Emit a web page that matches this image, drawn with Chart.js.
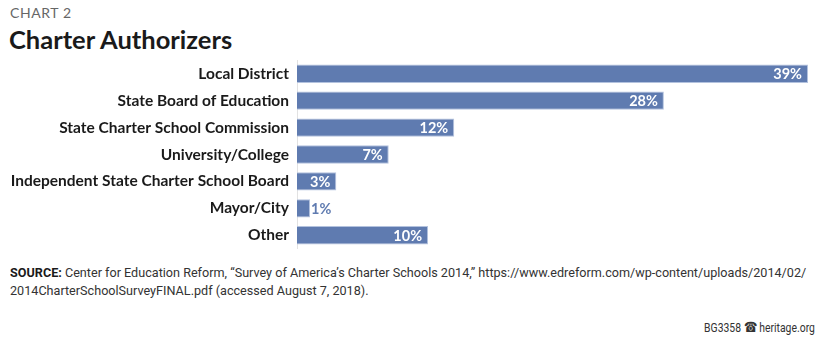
<!DOCTYPE html>
<html>
<head>
<meta charset="utf-8">
<script src="https://cdn.jsdelivr.net/npm/chart.js@4"></script>
<style>
  html, body { margin: 0; padding: 0; background: #fff; }
  body { width: 825px; height: 339px; position: relative; overflow: hidden; font-family: Lato, sans-serif; }
  .kicker { position: absolute; left: 10px; top: 4px; font-size: 14px; color: #666; letter-spacing: 0.6px; }
  .title { position: absolute; left: 9px; top: 24px; font-size: 25.5px; font-weight: 700; color: #1a1a1a; }
  .chart-box { position: absolute; left: 0; top: 51px; width: 825px; height: 207px; }
  .source { position: absolute; left: 10px; top: 263px; width: 960px; font-family: Roboto, sans-serif; font-size: 13.5px; line-height: 18px; color: #333;
            transform: scaleX(0.935); transform-origin: left top; white-space: nowrap; }
  .source b { color: #1a1a1a; font-weight: 700; }
  .credit { position: absolute; right: 10px; top: 319px; font-family: Roboto, sans-serif; font-size: 13.5px; color: #333;
            transform: scaleX(0.77); transform-origin: right top; white-space: nowrap; }
</style>
</head>
<body>
<div class="kicker">CHART 2</div>
<div class="title">Charter Authorizers</div>
<div class="chart-box"><canvas id="barChart"></canvas></div>
<div class="source"><b>SOURCE:</b> Center for Education Reform, “Survey of America’s Charter Schools 2014,” https://www.edreform.com/wp-content/uploads/2014/02/<br>2014CharterSchoolSurveyFINAL.pdf (accessed August 7, 2018).</div>
<div class="credit">BG3358 ☎ heritage.org</div>
<script>
/* ── Data ─────────────────────────────────────────────────── */
const categories = [
  'Local District',
  'State Board of Education',
  'State Charter School Commission',
  'University/College',
  'Independent State Charter School Board',
  'Mayor/City',
  'Other',
];
const shares = [39, 28, 12, 7, 3, 1, 10];

const BAR_FILL   = '#5f7bb0';
const BAR_EDGE   = '#b3c2de';
const LABEL_FONT = 'bold 14.5px Lato, sans-serif';

/* Value labels: inside the bar end in white, outside in bar colour if it does not fit */
const valueLabels = {
  id: 'valueLabels',
  afterDatasetsDraw(chart) {
    const { ctx } = chart;
    const meta = chart.getDatasetMeta(0);
    ctx.save();
    ctx.font = LABEL_FONT;
    ctx.textBaseline = 'middle';
    meta.data.forEach((bar, i) => {
      const text = shares[i] + '%';
      const w = ctx.measureText(text).width;
      const barW = bar.x - bar.base;
      if (barW > w + 8) {
        ctx.fillStyle = '#fff';
        ctx.textAlign = 'right';
        ctx.fillText(text, bar.x - 6, bar.y + 1);
      } else {
        ctx.fillStyle = BAR_FILL;
        ctx.textAlign = 'left';
        ctx.fillText(text, bar.x + 1, bar.y + 1);
      }
    });
    ctx.restore();
  },
};

new Chart(document.getElementById('barChart'), {
  type: 'bar',
  data: {
    labels: categories,
    datasets: [{
      data: shares,
      backgroundColor: BAR_FILL,
      borderColor: BAR_EDGE,
      borderWidth: 1,
      borderSkipped: 'left',
      barPercentage: 0.68,
      categoryPercentage: 1,
    }],
  },
  options: {
    indexAxis: 'y',
    responsive: true,
    maintainAspectRatio: false,
    animation: false,
    layout: { padding: { left: 0, right: 17, top: 0, bottom: 0 } },
    plugins: {
      legend: { display: false },
      tooltip: { enabled: false },
    },
    scales: {
      x: {
        display: false,
        min: 0,
        max: 39,
      },
      y: {
        grid: { display: false },
        border: { display: true, color: '#e2e2e2', width: 1 },
        ticks: {
          color: '#1a1a1a',
          font: { family: 'Lato', size: 15.5, weight: 'bold' },
          padding: 0,
        },
        afterFit: s => { s.width = 297; },
      },
    },
  },
  plugins: [valueLabels],
});
</script>
</body>
</html>
